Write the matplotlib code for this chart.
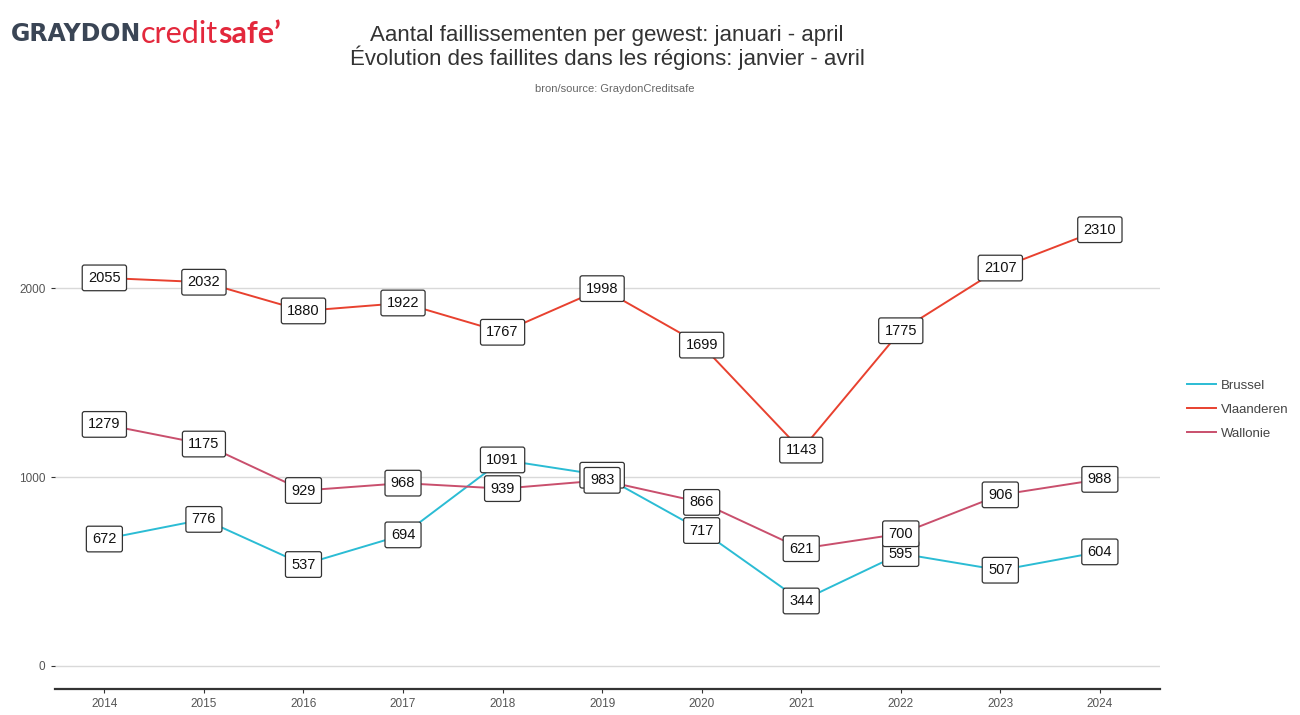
import matplotlib.pyplot as plt
from matplotlib.lines import Line2D

plt.rcParams['font.family'] = ['Liberation Sans', 'DejaVu Sans']

# --- data --- #
years = [2014, 2015, 2016, 2017, 2018, 2019, 2020, 2021, 2022, 2023, 2024]
brussel = [672, 776, 537, 694, 1091, 1010, 717, 344, 595, 507, 604]
vlaanderen = [2055, 2032, 1880, 1922, 1767, 1998, 1699, 1143, 1775, 2107, 2310]
wallonie = [1279, 1175, 929, 968, 939, 983, 866, 621, 700, 906, 988]

series = [("Brussel", brussel, "#2bbcd4"),
          ("Vlaanderen", vlaanderen, "#e8412f"),
          ("Wallonie", wallonie, "#c94f6d")]

fig = plt.figure(figsize=(13, 7.15), dpi=100)
ax = fig.add_axes([0.042, 0.0364, 0.85, 0.674])

for name, vals, col in series:
    ax.plot(years, vals, color=col, linewidth=1.4, zorder=2)
for name, vals, col in series:
    for x, y in zip(years, vals):
        ax.text(x, y, str(y), ha="center", va="center", fontsize=10.5, color="#111111",
                zorder=3,
                bbox=dict(boxstyle="round,pad=0.4,rounding_size=0.15", fc="white",
                          ec="#333333", lw=0.9))

ax.set_xlim(2013.5, 2024.6)
ax.set_ylim(-122, 2430)
ax.set_xticks(years)
ax.set_yticks([0, 1000, 2000])
ax.tick_params(axis="both", labelsize=8.5, labelcolor="#555555", color="#333333", length=3)
ax.yaxis.grid(True, color="#d9d9d9", linewidth=1)
ax.set_axisbelow(True)
for s in ["top", "right", "left"]:
    ax.spines[s].set_visible(False)
ax.spines["bottom"].set_color("#333333")
ax.spines["bottom"].set_linewidth(1.6)

# legend
handles = [Line2D([0], [0], color=c, lw=1.4) for _, _, c in series]
leg = fig.legend(handles, [n for n, _, _ in series], loc="center left",
                 bbox_to_anchor=(0.905, 0.427), frameon=True, fontsize=9.5,
                 handlelength=2.2, labelspacing=0.9, handletextpad=0.4,
                 borderpad=0.3)
leg.get_frame().set_facecolor("white")
leg.get_frame().set_edgecolor("white")
for t in leg.get_texts():
    t.set_color("#444444")

# titles
fig.text(0.467, 0.951, "Aantal faillissementen per gewest: januari - april",
         ha="center", va="center", fontsize=16, color="#333333")
fig.text(0.467, 0.919, "Évolution des faillites dans les régions: janvier - avril",
         ha="center", va="center", fontsize=16, color="#333333")
fig.text(0.473, 0.876, "bron/source: GraydonCreditsafe",
         ha="center", va="center", fontsize=8, color="#666666")

# logo
t1 = fig.text(0.008, 0.953, "GRAYDON", ha="left", va="center", fontsize=17,
              fontweight="bold", color="#3a4555", family="DejaVu Sans")
fig.canvas.draw()
bb = t1.get_window_extent()
x1 = bb.x1 / fig.bbox.width
t2 = fig.text(x1, 0.953, "credit", ha="left", va="center", fontsize=22,
              color="#e3283c", family="Lato")
fig.canvas.draw()
x2 = t2.get_window_extent().x1 / fig.bbox.width
fig.text(x2, 0.953, "safe\u2019", ha="left", va="center", fontsize=22,
         color="#e3283c", family="Lato", fontweight="bold")

fig.savefig("out.png", dpi=100)
